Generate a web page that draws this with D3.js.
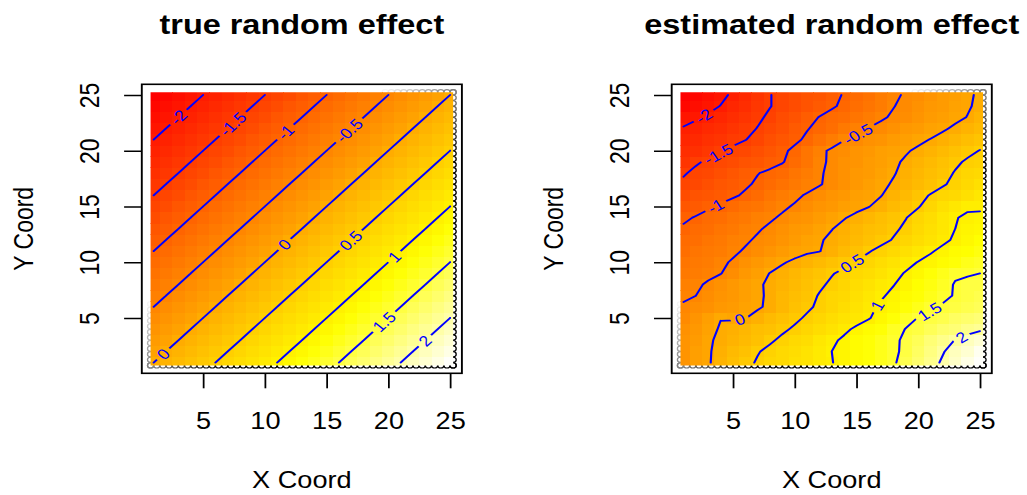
<!DOCTYPE html>
<html>
<head>
<meta charset="utf-8">
<script src="https://cdn.jsdelivr.net/npm/d3@7"></script>
<style>
  body { margin: 0; background: #fff; }
  svg { display: block; }
  text { font-family: "Liberation Sans", Arial, Helvetica, sans-serif; }
</style>
</head>
<body>
<svg id="chart" width="1027" height="495"></svg>
<script>
// grid coordinates and axis ticks
const gridX = d3.range(1, 26);
const gridY = d3.range(1, 26);
const xTicks = [5, 10, 15, 20, 25];
const yTicks = [5, 10, 15, 20, 25];
const levels = [-2, -1.5, -1, -0.5, 0, 0.5, 1, 1.5, 2];
const titles = ["true random effect", "estimated random effect"];

// true random effect, rows from Y = 25 (top) down to Y = 1
const trueRows = [
  [-2.4,-2.3,-2.2,-2.1,-2.0,-1.9,-1.8,-1.7,-1.6,-1.5,-1.4,-1.3,-1.2,-1.1,-1.0,-0.9,-0.8,-0.7,-0.6,-0.5,-0.4,-0.3,-0.2,-0.1,0.0],
  [-2.3,-2.2,-2.1,-2.0,-1.9,-1.8,-1.7,-1.6,-1.5,-1.4,-1.3,-1.2,-1.1,-1.0,-0.9,-0.8,-0.7,-0.6,-0.5,-0.4,-0.3,-0.2,-0.1,0.0,0.1],
  [-2.2,-2.1,-2.0,-1.9,-1.8,-1.7,-1.6,-1.5,-1.4,-1.3,-1.2,-1.1,-1.0,-0.9,-0.8,-0.7,-0.6,-0.5,-0.4,-0.3,-0.2,-0.1,0.0,0.1,0.2],
  [-2.1,-2.0,-1.9,-1.8,-1.7,-1.6,-1.5,-1.4,-1.3,-1.2,-1.1,-1.0,-0.9,-0.8,-0.7,-0.6,-0.5,-0.4,-0.3,-0.2,-0.1,0.0,0.1,0.2,0.3],
  [-2.0,-1.9,-1.8,-1.7,-1.6,-1.5,-1.4,-1.3,-1.2,-1.1,-1.0,-0.9,-0.8,-0.7,-0.6,-0.5,-0.4,-0.3,-0.2,-0.1,0.0,0.1,0.2,0.3,0.4],
  [-1.9,-1.8,-1.7,-1.6,-1.5,-1.4,-1.3,-1.2,-1.1,-1.0,-0.9,-0.8,-0.7,-0.6,-0.5,-0.4,-0.3,-0.2,-0.1,0.0,0.1,0.2,0.3,0.4,0.5],
  [-1.8,-1.7,-1.6,-1.5,-1.4,-1.3,-1.2,-1.1,-1.0,-0.9,-0.8,-0.7,-0.6,-0.5,-0.4,-0.3,-0.2,-0.1,0.0,0.1,0.2,0.3,0.4,0.5,0.6],
  [-1.7,-1.6,-1.5,-1.4,-1.3,-1.2,-1.1,-1.0,-0.9,-0.8,-0.7,-0.6,-0.5,-0.4,-0.3,-0.2,-0.1,0.0,0.1,0.2,0.3,0.4,0.5,0.6,0.7],
  [-1.6,-1.5,-1.4,-1.3,-1.2,-1.1,-1.0,-0.9,-0.8,-0.7,-0.6,-0.5,-0.4,-0.3,-0.2,-0.1,0.0,0.1,0.2,0.3,0.4,0.5,0.6,0.7,0.8],
  [-1.5,-1.4,-1.3,-1.2,-1.1,-1.0,-0.9,-0.8,-0.7,-0.6,-0.5,-0.4,-0.3,-0.2,-0.1,0.0,0.1,0.2,0.3,0.4,0.5,0.6,0.7,0.8,0.9],
  [-1.4,-1.3,-1.2,-1.1,-1.0,-0.9,-0.8,-0.7,-0.6,-0.5,-0.4,-0.3,-0.2,-0.1,0.0,0.1,0.2,0.3,0.4,0.5,0.6,0.7,0.8,0.9,1.0],
  [-1.3,-1.2,-1.1,-1.0,-0.9,-0.8,-0.7,-0.6,-0.5,-0.4,-0.3,-0.2,-0.1,0.0,0.1,0.2,0.3,0.4,0.5,0.6,0.7,0.8,0.9,1.0,1.1],
  [-1.2,-1.1,-1.0,-0.9,-0.8,-0.7,-0.6,-0.5,-0.4,-0.3,-0.2,-0.1,0.0,0.1,0.2,0.3,0.4,0.5,0.6,0.7,0.8,0.9,1.0,1.1,1.2],
  [-1.1,-1.0,-0.9,-0.8,-0.7,-0.6,-0.5,-0.4,-0.3,-0.2,-0.1,0.0,0.1,0.2,0.3,0.4,0.5,0.6,0.7,0.8,0.9,1.0,1.1,1.2,1.3],
  [-1.0,-0.9,-0.8,-0.7,-0.6,-0.5,-0.4,-0.3,-0.2,-0.1,0.0,0.1,0.2,0.3,0.4,0.5,0.6,0.7,0.8,0.9,1.0,1.1,1.2,1.3,1.4],
  [-0.9,-0.8,-0.7,-0.6,-0.5,-0.4,-0.3,-0.2,-0.1,0.0,0.1,0.2,0.3,0.4,0.5,0.6,0.7,0.8,0.9,1.0,1.1,1.2,1.3,1.4,1.5],
  [-0.8,-0.7,-0.6,-0.5,-0.4,-0.3,-0.2,-0.1,0.0,0.1,0.2,0.3,0.4,0.5,0.6,0.7,0.8,0.9,1.0,1.1,1.2,1.3,1.4,1.5,1.6],
  [-0.7,-0.6,-0.5,-0.4,-0.3,-0.2,-0.1,0.0,0.1,0.2,0.3,0.4,0.5,0.6,0.7,0.8,0.9,1.0,1.1,1.2,1.3,1.4,1.5,1.6,1.7],
  [-0.6,-0.5,-0.4,-0.3,-0.2,-0.1,0.0,0.1,0.2,0.3,0.4,0.5,0.6,0.7,0.8,0.9,1.0,1.1,1.2,1.3,1.4,1.5,1.6,1.7,1.8],
  [-0.5,-0.4,-0.3,-0.2,-0.1,0.0,0.1,0.2,0.3,0.4,0.5,0.6,0.7,0.8,0.9,1.0,1.1,1.2,1.3,1.4,1.5,1.6,1.7,1.8,1.9],
  [-0.4,-0.3,-0.2,-0.1,0.0,0.1,0.2,0.3,0.4,0.5,0.6,0.7,0.8,0.9,1.0,1.1,1.2,1.3,1.4,1.5,1.6,1.7,1.8,1.9,2.0],
  [-0.3,-0.2,-0.1,0.0,0.1,0.2,0.3,0.4,0.5,0.6,0.7,0.8,0.9,1.0,1.1,1.2,1.3,1.4,1.5,1.6,1.7,1.8,1.9,2.0,2.1],
  [-0.2,-0.1,0.0,0.1,0.2,0.3,0.4,0.5,0.6,0.7,0.8,0.9,1.0,1.1,1.2,1.3,1.4,1.5,1.6,1.7,1.8,1.9,2.0,2.1,2.2],
  [-0.1,0.0,0.1,0.2,0.3,0.4,0.5,0.6,0.7,0.8,0.9,1.0,1.1,1.2,1.3,1.4,1.5,1.6,1.7,1.8,1.9,2.0,2.1,2.2,2.3],
  [0.0,0.1,0.2,0.3,0.4,0.5,0.6,0.7,0.8,0.9,1.0,1.1,1.2,1.3,1.4,1.5,1.6,1.7,1.8,1.9,2.0,2.1,2.2,2.3,2.4]
];

// estimated random effect, rows from Y = 25 (top) down to Y = 1
const estRows = [
  [-2.42,-2.32,-2.21,-2.09,-1.94,-1.80,-1.65,-1.51,-1.42,-1.33,-1.24,-1.16,-1.07,-0.98,-0.87,-0.77,-0.66,-0.56,-0.46,-0.38,-0.30,-0.21,-0.13,-0.04,0.04],
  [-2.28,-2.19,-2.10,-1.99,-1.87,-1.75,-1.63,-1.51,-1.42,-1.32,-1.23,-1.13,-1.04,-0.94,-0.83,-0.72,-0.62,-0.51,-0.43,-0.35,-0.27,-0.19,-0.11,-0.03,0.06],
  [-2.10,-2.04,-1.95,-1.85,-1.75,-1.65,-1.55,-1.45,-1.33,-1.21,-1.10,-0.99,-0.90,-0.81,-0.72,-0.63,-0.54,-0.46,-0.38,-0.30,-0.22,-0.14,-0.07,0.01,0.12],
  [-1.98,-1.90,-1.82,-1.74,-1.66,-1.58,-1.49,-1.37,-1.26,-1.14,-1.02,-0.91,-0.81,-0.70,-0.60,-0.49,-0.42,-0.34,-0.27,-0.19,-0.11,-0.04,0.05,0.15,0.25],
  [-1.87,-1.80,-1.72,-1.65,-1.58,-1.51,-1.40,-1.29,-1.18,-1.07,-0.94,-0.80,-0.65,-0.51,-0.43,-0.36,-0.29,-0.22,-0.14,-0.07,0.01,0.10,0.19,0.29,0.38],
  [-1.77,-1.69,-1.61,-1.53,-1.44,-1.35,-1.25,-1.16,-1.06,-0.93,-0.75,-0.57,-0.45,-0.38,-0.31,-0.24,-0.17,-0.10,-0.03,0.05,0.15,0.24,0.34,0.43,0.51],
  [-1.66,-1.54,-1.45,-1.38,-1.31,-1.24,-1.16,-1.09,-1.02,-0.88,-0.72,-0.56,-0.45,-0.37,-0.29,-0.21,-0.13,-0.05,0.04,0.15,0.25,0.35,0.45,0.54,0.60],
  [-1.53,-1.43,-1.35,-1.26,-1.18,-1.09,-1.01,-0.95,-0.87,-0.76,-0.65,-0.53,-0.44,-0.36,-0.27,-0.19,-0.11,-0.02,0.08,0.19,0.30,0.41,0.52,0.61,0.70],
  [-1.44,-1.36,-1.28,-1.20,-1.12,-1.04,-0.96,-0.87,-0.78,-0.70,-0.61,-0.52,-0.43,-0.34,-0.25,-0.16,-0.06,0.03,0.14,0.25,0.36,0.47,0.57,0.67,0.78],
  [-1.31,-1.24,-1.17,-1.11,-1.04,-0.96,-0.86,-0.76,-0.66,-0.56,-0.47,-0.39,-0.31,-0.23,-0.16,-0.08,-0.01,0.13,0.26,0.40,0.52,0.61,0.70,0.78,0.87],
  [-1.19,-1.11,-1.04,-0.96,-0.88,-0.80,-0.72,-0.63,-0.55,-0.47,-0.40,-0.32,-0.24,-0.17,-0.09,-0.01,0.11,0.23,0.36,0.48,0.62,0.76,0.89,0.97,0.96],
  [-1.05,-0.98,-0.90,-0.83,-0.76,-0.69,-0.61,-0.54,-0.46,-0.37,-0.28,-0.20,-0.11,-0.02,0.08,0.18,0.28,0.39,0.49,0.61,0.74,0.87,0.99,1.03,1.05],
  [-0.96,-0.89,-0.82,-0.75,-0.67,-0.60,-0.53,-0.45,-0.36,-0.27,-0.18,-0.09,-0.01,0.09,0.18,0.27,0.36,0.45,0.55,0.66,0.77,0.89,1.00,1.06,1.12],
  [-0.90,-0.83,-0.76,-0.68,-0.61,-0.54,-0.46,-0.38,-0.29,-0.20,-0.12,-0.03,0.06,0.15,0.24,0.33,0.42,0.52,0.62,0.73,0.83,0.94,1.04,1.12,1.20],
  [-0.83,-0.76,-0.69,-0.62,-0.55,-0.47,-0.40,-0.32,-0.22,-0.12,-0.05,-0.01,0.10,0.23,0.35,0.48,0.58,0.68,0.77,0.87,0.97,1.07,1.15,1.23,1.32],
  [-0.76,-0.69,-0.62,-0.55,-0.47,-0.36,-0.25,-0.14,-0.03,0.06,0.15,0.24,0.33,0.42,0.52,0.62,0.72,0.82,0.92,1.01,1.09,1.18,1.26,1.34,1.42],
  [-0.69,-0.63,-0.57,-0.51,-0.39,-0.26,-0.13,0.01,0.10,0.19,0.29,0.39,0.48,0.57,0.66,0.75,0.84,0.93,1.02,1.14,1.26,1.37,1.46,1.48,1.50],
  [-0.61,-0.55,-0.46,-0.36,-0.25,-0.15,-0.05,0.06,0.15,0.25,0.35,0.45,0.55,0.64,0.72,0.81,0.90,0.99,1.09,1.20,1.30,1.41,1.52,1.55,1.57],
  [-0.54,-0.50,-0.41,-0.32,-0.23,-0.14,-0.05,0.05,0.17,0.28,0.40,0.52,0.61,0.70,0.79,0.88,0.97,1.06,1.16,1.25,1.35,1.44,1.52,1.56,1.60],
  [-0.47,-0.40,-0.33,-0.26,-0.18,-0.11,-0.04,0.06,0.19,0.32,0.45,0.55,0.65,0.74,0.84,0.94,1.04,1.14,1.25,1.36,1.46,1.53,1.57,1.62,1.67],
  [-0.42,-0.28,-0.13,-0.01,-0.03,-0.01,0.10,0.22,0.33,0.44,0.54,0.63,0.72,0.81,0.89,0.98,1.11,1.25,1.40,1.51,1.57,1.63,1.68,1.74,1.80],
  [-0.37,-0.23,-0.09,0.03,0.11,0.20,0.28,0.36,0.45,0.54,0.64,0.74,0.84,0.94,1.05,1.16,1.28,1.39,1.51,1.58,1.65,1.73,1.80,1.88,1.95],
  [-0.32,-0.18,-0.04,0.06,0.16,0.26,0.36,0.46,0.56,0.66,0.75,0.85,0.95,1.05,1.15,1.25,1.35,1.45,1.55,1.66,1.78,1.89,2.01,2.12,2.23],
  [-0.30,-0.16,-0.03,0.09,0.22,0.35,0.48,0.57,0.66,0.74,0.83,0.92,1.00,1.09,1.18,1.27,1.36,1.45,1.56,1.70,1.84,1.98,2.12,2.26,2.40],
  [-0.28,-0.16,-0.03,0.12,0.27,0.42,0.53,0.61,0.68,0.76,0.83,0.91,0.99,1.08,1.18,1.28,1.37,1.47,1.60,1.75,1.90,2.04,2.18,2.32,2.46]
];

// contour label spots [level, X, Y]
const trueLabels = [[-2, 2.97, 23.05], [-1.5, 7.3, 22.5], [-1, 11.75, 21.6], [-0.5, 16.74, 21.9],
  [0, 11.6, 11.6], [0, 1.76, 1.78], [0.5, 16.9, 12.0], [1, 20.5, 10.5], [1.5, 19.7, 4.63], [2, 22.95, 2.98]];
const estLabels = [[-2, 2.65, 23.1], [-1.5, 3.81, 19.74], [-1, 3.6, 15.05], [-0.5, 15.06, 21.6],
  [0, 5.56, 4.87], [0.5, 14.66, 9.89], [1, 16.68, 6.14], [1.5, 20.87, 5.68], [2, 23.57, 3.13]];

const svg = d3.select("#chart");
const sx = 1.18; // picture is stretched sideways
const defs = svg.append("defs");
const root = svg.append("g").attr("transform", `scale(${sx},1)`);
const plotTop = 84.3, plotBottom = 373.3;

// R heat.colors(n)
function heatColors(n) {
  const j = Math.floor(n / 4), i = n - j, out = [];
  for (let k = 0; k < i; k++) out.push(d3.rgb(255, 255 * k / (i - 1), 0).formatHex());
  for (let k = 0; k < j; k++) {
    const s0 = 1 - 1 / (2 * j), s1 = 1 / (2 * j);
    const s = j === 1 ? s0 : s0 + (s1 - s0) * k / (j - 1);
    out.push(d3.rgb(255, 255, 255 * (1 - s)).formatHex());
  }
  return out;
}
const heat = heatColors(100);

// marching squares on the grid
function isoSegments(z, level) {
  const segs = [];
  const lerp = (ax, ay, av, bx, by, bv) => {
    const t = (level - av) / (bv - av);
    return [ax + t * (bx - ax), ay + t * (by - ay)];
  };
  for (let j = 0; j < z.length - 1; j++) {
    for (let i = 0; i < z[0].length - 1; i++) {
      const v0 = z[j][i], v1 = z[j][i + 1], v2 = z[j + 1][i + 1], v3 = z[j + 1][i];
      const X0 = gridX[i], X1 = gridX[i + 1], Y0 = gridY[j], Y1 = gridY[j + 1];
      const a0 = v0 >= level, a1 = v1 >= level, a2 = v2 >= level, a3 = v3 >= level;
      const e = [
        a0 !== a1 ? lerp(X0, Y0, v0, X1, Y0, v1) : null,
        a1 !== a2 ? lerp(X1, Y0, v1, X1, Y1, v2) : null,
        a2 !== a3 ? lerp(X1, Y1, v2, X0, Y1, v3) : null,
        a3 !== a0 ? lerp(X0, Y1, v3, X0, Y0, v0) : null
      ];
      const hit = [0, 1, 2, 3].filter(k => e[k]);
      if (hit.length === 2) segs.push([e[hit[0]], e[hit[1]]]);
      else if (hit.length === 4) {
        const c = (v0 + v1 + v2 + v3) / 4 >= level;
        if (a0 === c) segs.push([e[0], e[1]], [e[2], e[3]]);
        else segs.push([e[3], e[0]], [e[1], e[2]]);
      }
    }
  }
  return segs;
}

function drawPanel(rows, labels, title, left, right, idx) {
  const x = d3.scaleLinear().domain([0.04, 25.96]).range([left / sx, right / sx]);
  const y = d3.scaleLinear().domain([0.04, 25.96]).range([plotBottom, plotTop]);
  const z = rows.slice().reverse();
  const ext = d3.extent(z.flat());
  const colorOf = v => heat[Math.min(heat.length - 1, Math.floor((v - ext[0]) / (ext[1] - ext[0]) * heat.length))];
  const g = root.append("g");

  // points peeking out round the image border
  const edge = d3.range(0.75, 25.3, 0.5);
  const pts = [].concat(edge.map(v => [v, 0.75]), edge.map(v => [v, 25.25]),
                        edge.map(v => [0.75, v]), edge.map(v => [25.25, v]));
  const shade = d3.interpolateRgb("#ffffff", "#000000");
  g.append("g").selectAll("circle").data(pts).join("circle")
    .attr("cx", d => x(d[0])).attr("cy", d => y(d[1])).attr("r", 2.6)
    .attr("fill", "none").attr("stroke-width", 1.1)
    .attr("stroke", d => shade(Math.max(0, Math.min(1, (d[0] + 26 - d[1] - 20) / 12))));

  // image
  defs.append("clipPath").attr("id", "clip" + idx).append("rect")
    .attr("x", x(0.75)).attr("y", y(25.25))
    .attr("width", x(25.25) - x(0.75)).attr("height", y(0.75) - y(25.25));
  const cells = [];
  z.forEach((row, j) => row.forEach((v, i) => cells.push({ gx: gridX[i], gy: gridY[j], v })));
  g.append("g").attr("clip-path", `url(#clip${idx})`).attr("shape-rendering", "crispEdges")
    .selectAll("rect").data(cells).join("rect")
    .attr("x", d => x(d.gx - 0.5)).attr("y", d => y(d.gy + 0.5))
    .attr("width", x(1.5) - x(0.5) + 0.4).attr("height", y(0.5) - y(1.5) + 0.4)
    .attr("fill", d => colorOf(d.v));

  // contour lines
  const mask = defs.append("mask").attr("id", "mask" + idx).attr("maskUnits", "userSpaceOnUse")
    .attr("x", 0).attr("y", 0).attr("width", 1027).attr("height", 495);
  mask.append("rect").attr("x", 0).attr("y", 0).attr("width", 1027).attr("height", 495).attr("fill", "#fff");
  const segsPx = {};
  levels.forEach(L => {
    segsPx[L] = isoSegments(z, L).map(s => s.map(p => [x(p[0]), y(p[1])]));
  });
  const lines = g.append("g").attr("mask", `url(#mask${idx})`);
  levels.forEach(L => {
    lines.append("path")
      .attr("d", segsPx[L].map(s => `M${s[0][0]},${s[0][1]}L${s[1][0]},${s[1][1]}`).join(""))
      .attr("fill", "none").attr("stroke", "#0000ff").attr("stroke-width", 1.8)
      .attr("stroke-linecap", "round");
  });

  // contour labels
  labels.forEach(([L, lx, ly]) => {
    const p = [x(lx), y(ly)];
    let best = null, bd = Infinity;
    segsPx[L].forEach(s => {
      const dx = s[1][0] - s[0][0], dy = s[1][1] - s[0][1];
      const len2 = dx * dx + dy * dy || 1;
      const t = Math.max(0, Math.min(1, ((p[0] - s[0][0]) * dx + (p[1] - s[0][1]) * dy) / len2));
      const q = [s[0][0] + t * dx, s[0][1] + t * dy];
      const d = Math.hypot(q[0] - p[0], q[1] - p[1]);
      if (d < bd) { bd = d; best = q; }
    });
    if (!best) return;
    let ux = 0, uy = 0;
    segsPx[L].forEach(s => {
      const mx = (s[0][0] + s[1][0]) / 2, my = (s[0][1] + s[1][1]) / 2;
      if (Math.hypot(mx - best[0], my - best[1]) > 14) return;
      let dx = s[1][0] - s[0][0], dy = s[1][1] - s[0][1];
      if (dx < 0 || (dx === 0 && dy > 0)) { dx = -dx; dy = -dy; }
      ux += dx; uy += dy;
    });
    const ang = Math.atan2(uy, ux) * 180 / Math.PI;
    const t = g.append("text")
      .attr("transform", `translate(${best[0]},${best[1]}) rotate(${ang})`)
      .attr("text-anchor", "middle").attr("dy", "0.36em")
      .attr("font-size", 15).attr("fill", "#0000ff")
      .text(String(L));
    const w = t.node().getComputedTextLength() + 7;
    mask.append("rect")
      .attr("transform", `translate(${best[0]},${best[1]}) rotate(${ang})`)
      .attr("x", -w / 2).attr("y", -6).attr("width", w).attr("height", 12).attr("fill", "#000");
  });

  // box
  g.append("rect")
    .attr("x", x(0.04)).attr("y", y(25.96))
    .attr("width", x(25.96) - x(0.04)).attr("height", y(0.04) - y(25.96))
    .attr("fill", "none").attr("stroke", "#000").attr("stroke-width", 1.6);

  // axes
  const ax = g.append("g").attr("transform", `translate(0,${y(0.04)})`)
    .call(d3.axisBottom(x).tickValues(xTicks).tickSize(15).tickPadding(24).tickSizeOuter(0));
  ax.select(".domain").remove();
  ax.selectAll("line").attr("stroke-width", 1.5);
  ax.selectAll("text").attr("font-size", 23).attr("fill", "#000")
    .attr("font-family", null);

  const ay = g.append("g").attr("transform", `translate(${x(0.04)},0)`)
    .call(d3.axisLeft(y).tickValues(yTicks).tickSize(15).tickSizeOuter(0));
  ay.select(".domain").remove();
  ay.selectAll("line").attr("stroke-width", 1.5);
  ay.selectAll("text").attr("font-size", 23).attr("fill", "#000").attr("font-family", null)
    .attr("transform", "rotate(-90)").attr("x", 0).attr("y", -36.2).attr("dy", 0)
    .attr("text-anchor", "middle");

  // titles
  const cx = (x(0.04) + x(25.96)) / 2;
  g.append("text").attr("x", cx).attr("y", 34.3).attr("text-anchor", "middle")
    .attr("font-size", 27.5).attr("font-weight", "bold").text(title);
  g.append("text").attr("x", cx).attr("y", 488.3).attr("text-anchor", "middle")
    .attr("font-size", 23).text("X Coord");
  g.append("text")
    .attr("transform", `translate(${x(0.04) - 92.3},${(plotTop + plotBottom) / 2}) rotate(-90)`)
    .attr("text-anchor", "middle").attr("font-size", 23).text("Y Coord");
}

drawPanel(trueRows, trueLabels, titles[0], 141.8, 461.9, 0);
drawPanel(estRows, estLabels, titles[1], 671.7, 991.8, 1);
</script>
</body>
</html>
